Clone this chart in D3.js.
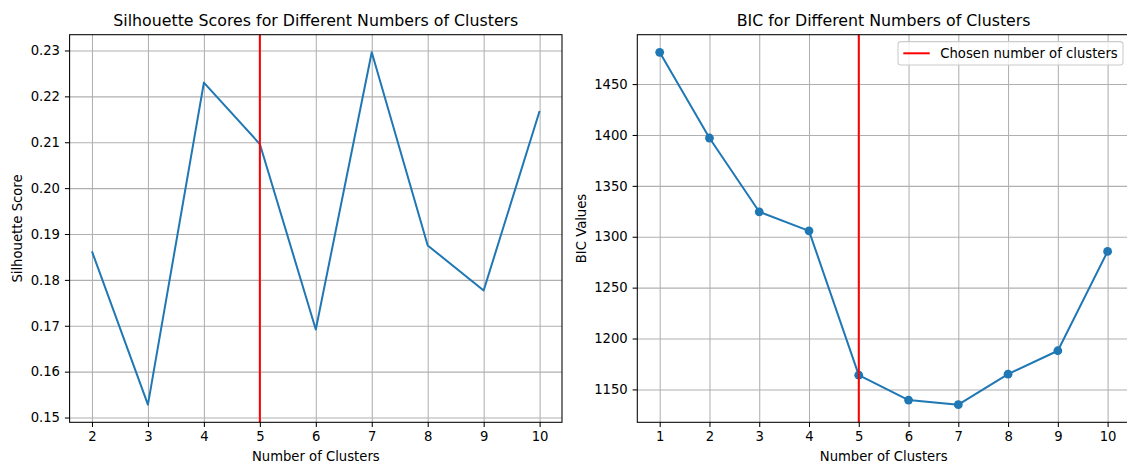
<!DOCTYPE html>
<html>
<head>
<meta charset="utf-8">
<script src="https://cdn.jsdelivr.net/npm/d3@7"></script>
<style>
  body { margin: 0; background: #ffffff; }
  svg { display: block; font-family: "DejaVu Sans", sans-serif; }
</style>
</head>
<body>
<div id="chart"></div>
<script>
// data
const silhouetteClusters = [2, 3, 4, 5, 6, 7, 8, 9, 10];
const silhouetteScores = [0.1862, 0.1528, 0.2230, 0.2096, 0.1692, 0.2296, 0.1875, 0.1777, 0.2168];
const silhouetteTicks = [0.15, 0.16, 0.17, 0.18, 0.19, 0.20, 0.21, 0.22, 0.23];

const bicClusters = [1, 2, 3, 4, 5, 6, 7, 8, 9, 10];
const bicValues = [1481.2, 1397.0, 1324.5, 1305.8, 1164.0, 1139.5, 1135.0, 1165.0, 1188.0, 1285.6];
const bicTicks = [1150, 1200, 1250, 1300, 1350, 1400, 1450];

const chosenClusters = 5;
const legendLabel = "Chosen number of clusters";

let dimensions = {
  width: 1127,
  height: 464,
  top: 34.7,
  bottom: 422.3,
  fontTick: 13.2,
  fontTitle: 15.8,
};

const blue = "#1f77b4";
const gridColor = "#b0b0b0";

const svg = d3.select("#chart")
  .append("svg")
  .attr("width", dimensions.width)
  .attr("height", dimensions.height);

// matplotlib style 5% margin
function padded(values) {
  const [lo, hi] = d3.extent(values);
  const m = (hi - lo) * 0.05;
  return [lo - m, hi + m];
}

function drawPanel(opts) {
  const left = opts.left, right = opts.right;
  const top = dimensions.top, bottom = dimensions.bottom;
  const h = bottom - top;

  const x = d3.scaleLinear().domain(padded(opts.xs)).range([left, right]);
  const y = d3.scaleLinear().domain(padded(opts.ys)).range([bottom, top]);

  const g = svg.append("g");

  // grid
  g.append("g")
    .attr("transform", `translate(0,${bottom})`)
    .call(d3.axisBottom(x).tickValues(opts.xs).tickSize(-h).tickFormat(""))
    .call(s => s.select(".domain").remove())
    .call(s => s.selectAll("line").attr("stroke", gridColor).attr("stroke-width", 1.05));

  g.append("g")
    .attr("transform", `translate(${left},0)`)
    .call(d3.axisLeft(y).tickValues(opts.yTicks).tickSize(-(right - left)).tickFormat(""))
    .call(s => s.select(".domain").remove())
    .call(s => s.selectAll("line").attr("stroke", gridColor).attr("stroke-width", 1.05));

  // series
  const pts = opts.xs.map((d, i) => ({ x: d, y: opts.ys[i] }));
  const line = d3.line().x(d => x(d.x)).y(d => y(d.y));

  g.append("path")
    .attr("d", line(pts))
    .attr("fill", "none")
    .attr("stroke", blue)
    .attr("stroke-width", 2)
    .attr("stroke-linejoin", "round");

  if (opts.markers) {
    g.selectAll(".dot")
      .data(pts)
      .join("circle")
      .attr("cx", d => x(d.x))
      .attr("cy", d => y(d.y))
      .attr("r", 4.4)
      .attr("fill", blue);
  }

  // chosen number of clusters
  g.append("line")
    .attr("x1", x(chosenClusters))
    .attr("x2", x(chosenClusters))
    .attr("y1", top)
    .attr("y2", bottom)
    .attr("stroke", "red")
    .attr("stroke-width", 2);

  // frame
  g.append("rect")
    .attr("x", left)
    .attr("y", top)
    .attr("width", right - left)
    .attr("height", h)
    .attr("fill", "none")
    .attr("stroke", "#000")
    .attr("stroke-width", 1.05);

  // axes
  const xAxis = g.append("g")
    .attr("transform", `translate(0,${bottom})`)
    .call(d3.axisBottom(x).tickValues(opts.xs).tickSize(4.7).tickPadding(4.9).tickFormat(d3.format("d")));

  const yAxis = g.append("g")
    .attr("transform", `translate(${left},0)`)
    .call(d3.axisLeft(y).tickValues(opts.yTicks).tickSize(4.7).tickPadding(4.9).tickFormat(opts.yFormat));

  [xAxis, yAxis].forEach(a => {
    a.select(".domain").remove();
    a.selectAll("line").attr("stroke", "#000").attr("stroke-width", 1.05);
    a.selectAll("text")
      .attr("fill", "#000")
      .style("font-size", dimensions.fontTick + "px")
      .style("font-family", "DejaVu Sans, sans-serif");
  });

  // title
  g.append("text")
    .attr("x", (left + right) / 2)
    .attr("y", top - 8.6)
    .attr("text-anchor", "middle")
    .style("font-size", dimensions.fontTitle + "px")
    .text(opts.title);

  // x label
  g.append("text")
    .attr("x", (left + right) / 2)
    .attr("y", 460.5)
    .attr("text-anchor", "middle")
    .style("font-size", dimensions.fontTick + "px")
    .text("Number of Clusters");

  // y label, placed off the widest tick label
  let maxW = 0;
  yAxis.selectAll("text").each(function () {
    maxW = Math.max(maxW, this.getComputedTextLength());
  });
  const labelX = left - 9.6 - maxW - 5.3 - 3.1;
  g.append("text")
    .attr("transform", `translate(${labelX},${(top + bottom) / 2}) rotate(-90)`)
    .attr("text-anchor", "middle")
    .style("font-size", dimensions.fontTick + "px")
    .text(opts.yLabel);

  return { g, x, y, left, right, top, bottom };
}

drawPanel({
  left: 69.6,
  right: 562,
  xs: silhouetteClusters,
  ys: silhouetteScores,
  yTicks: silhouetteTicks,
  yFormat: d3.format(".2f"),
  title: "Silhouette Scores for Different Numbers of Clusters",
  yLabel: "Silhouette Score",
  markers: false,
});

const bic = drawPanel({
  left: 637.3,
  right: 1130,
  xs: bicClusters,
  ys: bicValues,
  yTicks: bicTicks,
  yFormat: d3.format("d"),
  title: "BIC for Different Numbers of Clusters",
  yLabel: "BIC Values",
  markers: true,
});

// legend
const fs = dimensions.fontTick;
const legend = bic.g.append("g");
const legendBox = legend.append("rect");
const legendText = legend.append("text")
  .style("font-size", fs + "px")
  .text(legendLabel);

const textW = legendText.node().getComputedTextLength();
const pad = 0.4 * fs, handleLen = 2 * fs, handlePad = 0.8 * fs;
const boxW = pad * 2 + handleLen + handlePad + textW;
const boxH = 23.4;
const boxRight = 1123;
const boxLeft = boxRight - boxW;
const boxTop = 41.6;

legendBox
  .attr("x", boxLeft)
  .attr("y", boxTop)
  .attr("width", boxW)
  .attr("height", boxH)
  .attr("rx", 2.8)
  .attr("fill", "#fff")
  .attr("fill-opacity", 0.8)
  .attr("stroke", "#cccccc")
  .attr("stroke-width", 1.05);

legend.append("line")
  .attr("x1", boxLeft + pad)
  .attr("x2", boxLeft + pad + handleLen)
  .attr("y1", boxTop + boxH / 2)
  .attr("y2", boxTop + boxH / 2)
  .attr("stroke", "red")
  .attr("stroke-width", 2);

legendText
  .attr("x", boxLeft + pad + handleLen + handlePad)
  .attr("y", boxTop + boxH / 2)
  .attr("dy", "0.35em");
</script>
</body>
</html>
